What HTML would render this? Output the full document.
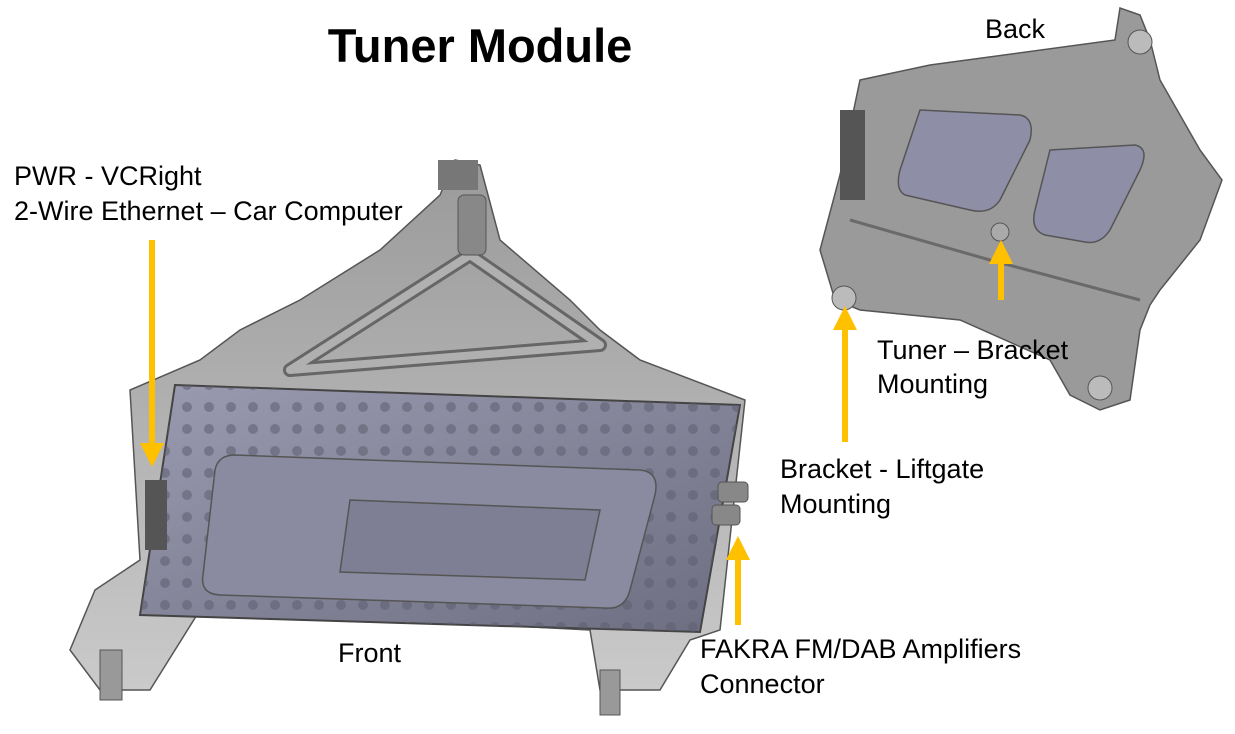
<!DOCTYPE html>
<html><head><meta charset="utf-8"><style>
html,body{margin:0;padding:0;background:#fff;}
svg{display:block;}
text{font-family:"Liberation Sans",sans-serif;fill:#000;}
</style></head><body>
<svg width="1235" height="734" viewBox="0 0 1235 734" xmlns="http://www.w3.org/2000/svg">
<defs>
<marker id="ah" markerWidth="4" markerHeight="4" refX="2" refY="2" orient="auto" markerUnits="strokeWidth">
<path d="M0,0 L4,2 L0,4 z" fill="#FFC000"/></marker>
<linearGradient id="box" x1="0" y1="0" x2="1" y2="1">
<stop offset="0" stop-color="#9a9ab0"/><stop offset="1" stop-color="#6e6e82"/></linearGradient>
<linearGradient id="brk" x1="0" y1="0" x2="0" y2="1">
<stop offset="0" stop-color="#9a9a9a"/><stop offset="1" stop-color="#cacaca"/></linearGradient>
<pattern id="dots" width="22" height="22" patternUnits="userSpaceOnUse">
<circle cx="11" cy="11" r="5" fill="#5e5e70"/></pattern>
</defs>

<text x="480" y="62" font-size="47" font-weight="bold" text-anchor="middle">Tuner Module</text>

<path d="M440,195 L455,160 L480,165 L500,240 L570,300 L600,330 L640,360 L745,400 L720,630 L690,640 L660,690 L600,690 L590,630 L200,610 L150,690 L100,690 L70,650 L95,590 L140,560 L130,390 L200,360 L240,330 L300,300 L380,250 Z" fill="url(#brk)" stroke="#555" stroke-width="1.5"/>
<path d="M470,255 L600,345 L290,370 Z" fill="none" stroke="#666" stroke-width="14" stroke-linejoin="round"/>
<path d="M470,255 L600,345 L290,370 Z" fill="none" stroke="#b0b0b0" stroke-width="8" stroke-linejoin="round"/>
<rect x="458" y="195" width="28" height="60" rx="6" fill="#888" stroke="#555"/>
<rect x="438" y="160" width="40" height="30" fill="#777"/>
<rect x="100" y="650" width="22" height="50" fill="#999" stroke="#555"/>
<rect x="600" y="670" width="20" height="45" fill="#999" stroke="#555"/>
<path d="M175,385 L740,405 L700,632 L140,615 Z" fill="url(#box)" stroke="#444" stroke-width="2"/>
<path d="M175,385 L740,405 L700,632 L140,615 Z" fill="url(#dots)" opacity="0.55"/>
<path d="M235,455 L640,470 Q660,472 655,495 L630,590 Q625,610 605,608 L220,595 Q200,594 203,575 L215,470 Q218,455 235,455 Z" fill="#8a8aa0" stroke="#555" stroke-width="1.5"/>
<path d="M350,500 L600,510 L585,580 L340,572 Z" fill="#7e7e94" stroke="#555" stroke-width="1.5"/>
<rect x="145" y="480" width="22" height="70" fill="#555"/>
<rect x="718" y="482" width="30" height="20" rx="4" fill="#888" stroke="#555"/>
<rect x="712" y="505" width="28" height="20" rx="4" fill="#888" stroke="#555"/>

<path d="M860,80 L930,65 L1115,40 L1120,8 L1140,15 L1150,40 L1160,80 L1200,150 L1222,180 L1200,240 L1160,290 L1150,305 L1140,330 L1130,400 L1100,410 L1070,395 L1050,360 L960,320 L860,310 L835,300 L820,250 L840,175 Z" fill="#9a9a9a" stroke="#555" stroke-width="1.5"/>
<path d="M850,220 L990,260 L1140,300" fill="none" stroke="#6a6a6a" stroke-width="3"/>
<path d="M920,110 L1020,115 Q1035,118 1030,140 L1000,200 Q990,215 970,210 L905,195 Q895,190 900,170 Z" fill="#8e8ea6" stroke="#555" stroke-width="1.5"/>
<path d="M1050,150 L1135,145 Q1150,148 1140,170 L1110,230 Q1100,245 1085,242 L1045,235 Q1030,230 1035,210 Z" fill="#8e8ea6" stroke="#555" stroke-width="1.5"/>
<circle cx="1140" cy="42" r="12" fill="#bbb" stroke="#555"/>
<circle cx="844" cy="298" r="12" fill="#bbb" stroke="#555"/>
<circle cx="1100" cy="388" r="12" fill="#bbb" stroke="#555"/>
<circle cx="1000" cy="232" r="9" fill="#aaa" stroke="#555"/>
<rect x="840" y="110" width="25" height="90" fill="#555"/>

<g stroke="#FFC000" stroke-width="6" fill="none">
<line x1="152" y1="240" x2="152" y2="455" marker-end="url(#ah)"/>
<line x1="738" y1="625" x2="738" y2="548" marker-end="url(#ah)"/>
<line x1="845" y1="442" x2="845" y2="318" marker-end="url(#ah)"/>
<line x1="1001" y1="300" x2="1001" y2="252" marker-end="url(#ah)"/>
</g>

<g font-size="27">
<text x="14" y="185">PWR - VCRight</text>
<text x="14" y="220">2-Wire Ethernet – Car Computer</text>
<text x="338" y="662">Front</text>
<text x="700" y="658">FAKRA FM/DAB Amplifiers</text>
<text x="700" y="693">Connector</text>
<text x="985" y="38">Back</text>
<text x="877" y="359">Tuner – Bracket</text>
<text x="877" y="393">Mounting</text>
<text x="780" y="478">Bracket - Liftgate</text>
<text x="780" y="513">Mounting</text>
</g>
</svg>
</body></html>
